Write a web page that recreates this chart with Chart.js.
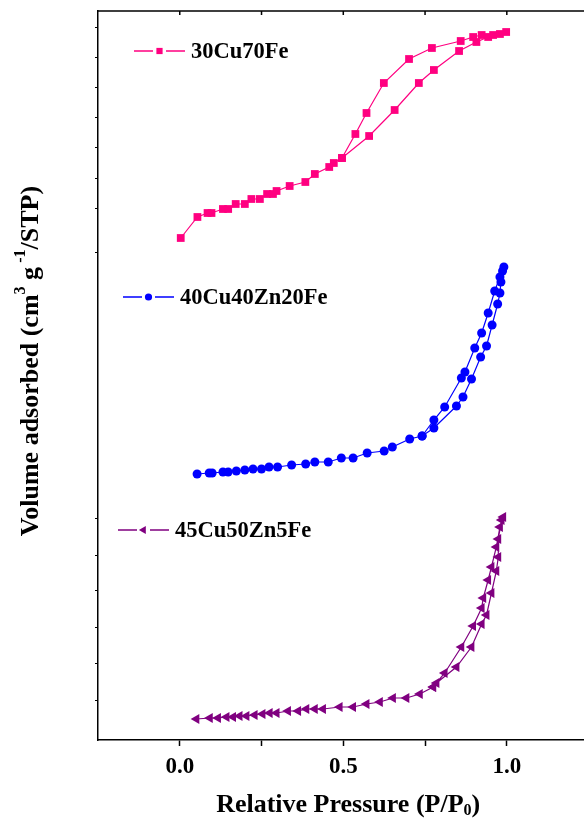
<!DOCTYPE html>
<html>
<head>
<meta charset="utf-8">
<script src="https://cdn.jsdelivr.net/npm/chart.js"></script>
<style>
  html, body { margin: 0; padding: 0; background: #fff; overflow: hidden; }
  canvas { display: block; }
</style>
</head>
<body>
<canvas id="isoChart" width="584" height="821"></canvas>
<script>
// Isotermas de N2 (curvas deslocadas na vertical): adsorção sobe, dessorção volta
const labels = ['30Cu70Fe', '40Cu40Zn20Fe', '45Cu50Zn5Fe'];

const p30Cu70Fe = [0.003, 0.054, 0.085, 0.097, 0.132, 0.148, 0.171, 0.199, 0.219, 0.245, 0.267, 0.285, 0.296,
    0.336, 0.384, 0.413, 0.457, 0.471, 0.496,
    0.579, 0.657, 0.731, 0.777, 0.854, 0.907, 0.943, 0.958, 0.979, 0.998,
    0.923, 0.897, 0.859, 0.771, 0.701, 0.624, 0.571, 0.537, 0.496];
const v30Cu70Fe = [50.2, 52.3, 52.7, 52.7, 53.1, 53.1, 53.6, 53.6, 54.1, 54.1, 54.6, 54.6, 54.9,
    55.4, 55.8, 56.6, 57.3, 57.7, 58.2,
    60.4, 63.0, 65.7, 67.0, 68.9, 69.8, 70.3, 70.5, 70.6, 70.8,
    70.5, 70.3, 69.9, 69.2, 68.1, 65.7, 62.7, 60.6, 58.2];

const p40Cu40Zn20Fe = [0.053, 0.090, 0.099, 0.132, 0.148, 0.173, 0.199, 0.224, 0.250, 0.273, 0.299, 0.342,
    0.385, 0.413, 0.454, 0.494, 0.530, 0.573, 0.625, 0.650, 0.703, 0.741,
    0.777, 0.846, 0.866, 0.892, 0.920, 0.938, 0.955, 0.972, 0.979, 0.982, 0.991,
    0.987, 0.979, 0.963, 0.943, 0.923, 0.902, 0.872, 0.861, 0.810, 0.777, 0.741];
const v40Cu40Zn20Fe = [26.6, 26.7, 26.7, 26.8, 26.8, 26.9, 27.0, 27.1, 27.1, 27.3, 27.3, 27.5,
    27.6, 27.8, 27.8, 28.2, 28.2, 28.7, 28.9, 29.3, 30.1, 30.4,
    31.2, 33.4, 34.3, 36.1, 38.3, 39.4, 41.5, 43.6, 44.7, 45.8, 47.3,
    46.9, 46.3, 44.9, 42.7, 40.7, 39.2, 36.8, 36.2, 33.3, 32.0, 30.4];

const p45Cu50Zn5Fe = [0.051, 0.092, 0.117, 0.143, 0.163, 0.183, 0.204, 0.229, 0.253, 0.275, 0.296, 0.331,
    0.362, 0.387, 0.413, 0.438, 0.489, 0.530, 0.571, 0.612, 0.652, 0.693, 0.734, 0.775,
    0.785, 0.846, 0.892, 0.923, 0.938, 0.953, 0.968, 0.974, 0.974, 0.984, 0.989,
    0.979, 0.968, 0.953, 0.943, 0.928, 0.923, 0.897, 0.861, 0.810, 0.775];
const v45Cu50Zn5Fe = [2.1, 2.2, 2.2, 2.3, 2.3, 2.4, 2.4, 2.5, 2.6, 2.7, 2.7, 2.9,
    2.9, 3.1, 3.1, 3.1, 3.3, 3.3, 3.6, 3.8, 4.2, 4.2, 4.6, 5.3,
    5.7, 7.3, 9.3, 11.6, 12.5, 14.7, 16.9, 18.3, 20.1, 22.0, 22.3,
    21.3, 19.3, 17.3, 16.0, 14.2, 13.2, 11.4, 9.3, 6.7, 5.3];

const xTicks = [0, 0.25, 0.5, 0.75, 1.0];
const xLabelTicks = [0, 0.5, 1.0];
const yMinorTicks = [71.3, 68.3, 65.3, 62.3, 59.3, 56.2, 53.2, 48.7, 22.2, 18.5, 15.0, 11.3, 7.7, 4.0];

const FONT = '"Liberation Serif", "Times New Roman", serif';

function toPoints(px, py) {
    return px.map((x, i) => ({ x: x, y: py[i] }));
}

// legenda: posição (px) de cada item dentro do gráfico
const legendSpots = [{ x: 134, y: 51 }, { x: 123, y: 297 }, { x: 118, y: 530 }];

const insideLegend = {
    id: 'insideLegend',
    afterDatasetsDraw(chart) {
        const ctx = chart.ctx;
        ctx.save();
        chart.data.datasets.forEach((ds, i) => {
            const s = legendSpots[i];
            ctx.strokeStyle = ds.borderColor;
            ctx.lineWidth = 1.3;
            ctx.beginPath();
            ctx.moveTo(s.x, s.y); ctx.lineTo(s.x + 19, s.y);
            ctx.moveTo(s.x + 32, s.y); ctx.lineTo(s.x + 51, s.y);
            ctx.stroke();
            ctx.fillStyle = ds.pointBackgroundColor;
            Chart.helpers.drawPoint(ctx, {
                pointStyle: ds.pointStyle,
                radius: ds.pointRadius * 0.8,
                rotation: ds.pointRotation || 0,
                borderWidth: 0
            }, s.x + 25.5, s.y);
            ctx.fillStyle = '#000';
            ctx.font = 'bold 22.5px ' + FONT;
            ctx.textBaseline = 'middle';
            ctx.textAlign = 'left';
            ctx.fillText(ds.label, s.x + 57, s.y + 1);
        });
        ctx.restore();
    }
};

// moldura de cima e títulos dos eixos com sub/sobrescritos
function drawRuns(ctx, runs, size) {
    let w = 0;
    runs.forEach(r => {
        ctx.font = 'bold ' + (r.s ? size * 0.62 : size) + 'px ' + FONT;
        w += ctx.measureText(r.t).width;
    });
    let x = -w / 2;
    runs.forEach(r => {
        ctx.font = 'bold ' + (r.s ? size * 0.62 : size) + 'px ' + FONT;
        const dy = r.s === 'sup' ? -size * 0.38 : r.s === 'sub' ? size * 0.22 : 0;
        ctx.fillText(r.t, x, dy);
        x += ctx.measureText(r.t).width;
    });
}

const frameAndTitles = {
    id: 'frameAndTitles',
    afterDraw(chart) {
        const { ctx, chartArea, scales } = chart;
        ctx.save();
        ctx.strokeStyle = '#000';
        ctx.lineWidth = 1.5;
        ctx.beginPath();
        ctx.moveTo(chartArea.left, chartArea.top);
        ctx.lineTo(chartArea.right, chartArea.top);
        xTicks.forEach(v => {
            const px = scales.x.getPixelForValue(v);
            ctx.moveTo(px, chartArea.top);
            ctx.lineTo(px, chartArea.top + 4);
        });
        ctx.stroke();

        ctx.fillStyle = '#000';
        ctx.textBaseline = 'middle';
        ctx.textAlign = 'left';

        ctx.save();
        ctx.translate(scales.x.getPixelForValue(0.515), 805);
        drawRuns(ctx, [{ t: 'Relative Pressure (P/P' }, { t: '0', s: 'sub' }, { t: ')' }], 26);
        ctx.restore();

        ctx.save();
        ctx.translate(31, scales.y.getPixelForValue(37.9));
        ctx.rotate(-Math.PI / 2);
        drawRuns(ctx, [{ t: 'Volume adsorbed (cm' }, { t: '3', s: 'sup' }, { t: ' g' },
            { t: ' -1', s: 'sup' }, { t: '/STP)' }], 26);
        ctx.restore();
        ctx.restore();
    }
};

const series = [
    { label: labels[0], data: toPoints(p30Cu70Fe, v30Cu70Fe), color: '#ff0080', style: 'rect', r: 5.5, rot: 0 },
    { label: labels[1], data: toPoints(p40Cu40Zn20Fe, v40Cu40Zn20Fe), color: '#0000ff', style: 'circle', r: 4.5, rot: 0 },
    { label: labels[2], data: toPoints(p45Cu50Zn5Fe, v45Cu50Zn5Fe), color: '#800080', style: 'triangle', r: 5.8, rot: 270 }
];

new Chart(document.getElementById('isoChart'), {
    type: 'line',
    data: {
        datasets: series.map(s => ({
            label: s.label,
            data: s.data,
            borderColor: s.color,
            backgroundColor: s.color,
            pointBackgroundColor: s.color,
            pointBorderWidth: 0,
            pointStyle: s.style,
            pointRadius: s.r,
            pointRotation: s.rot,
            borderWidth: 1.2,
            tension: 0,
            fill: false
        }))
    },
    options: {
        responsive: false,
        animation: false,
        layout: { padding: { top: 11, left: 0, right: 0, bottom: 0 }, autoPadding: false },
        plugins: {
            legend: { display: false },
            tooltip: { enabled: false }
        },
        scales: {
            x: {
                type: 'linear',
                min: -0.25,
                max: 1.236,
                afterFit: s => { s.height = 81; },
                afterBuildTicks: s => { s.ticks = xTicks.map(v => ({ value: v })); },
                border: { display: true, color: '#000', width: 1.5 },
                grid: { drawOnChartArea: false, drawTicks: true, tickLength: 6, tickColor: '#000', tickWidth: 1.5 },
                ticks: {
                    color: '#000',
                    padding: 7,
                    font: { family: FONT, size: 23, weight: 'bold' },
                    callback: v => xLabelTicks.includes(v) ? v.toFixed(1) : ''
                }
            },
            y: {
                type: 'linear',
                min: 0,
                max: 72.9,
                afterFit: s => { s.width = 98; },
                afterBuildTicks: s => { s.ticks = yMinorTicks.map(v => ({ value: v })); },
                border: { display: true, color: '#000', width: 1.5 },
                grid: { drawOnChartArea: false, drawTicks: true, tickLength: 3, tickColor: '#000', tickWidth: 1 },
                ticks: { display: false }
            }
        }
    },
    plugins: [insideLegend, frameAndTitles]
});
</script>
</body>
</html>
